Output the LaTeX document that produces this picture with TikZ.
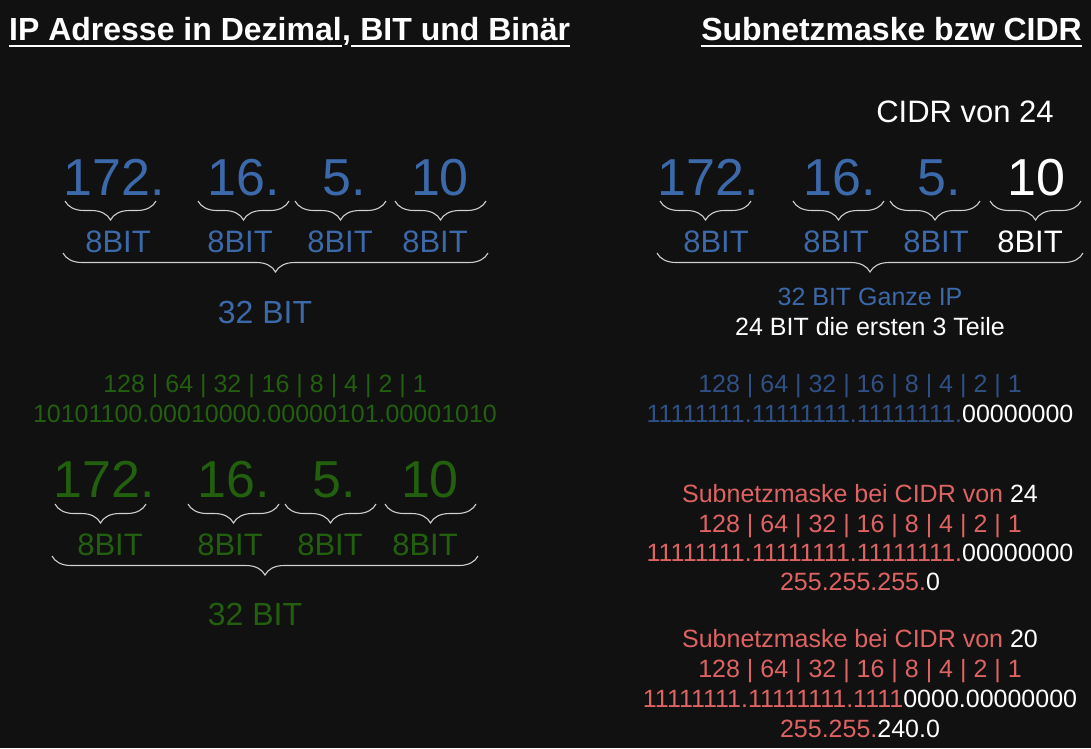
\documentclass[tikz,border=0pt]{standalone}
\usepackage{fontspec}
\setmainfont{Liberation Sans}
\usetikzlibrary{decorations.pathreplacing}
\definecolor{bgdark}{HTML}{111111}
\definecolor{ipblue}{HTML}{3C69A9}
\definecolor{maskblue}{HTML}{2F5085}
\definecolor{bingreen}{HTML}{225F0E}
\definecolor{maskred}{HTML}{DF6363}
\definecolor{bracegray}{HTML}{CFCFCF}
\tikzset{
  bignum/.style={font=\fontsize{52}{52}\selectfont, inner sep=0pt, anchor=base},
  bits/.style={font=\fontsize{31}{31}\selectfont, inner sep=0pt, anchor=base},
  total/.style={font=\fontsize{32}{32}\selectfont, inner sep=0pt, anchor=base},
  line/.style={font=\fontsize{25}{25}\selectfont, inner sep=0pt, anchor=base},
  heading/.style={font=\fontsize{32}{32}\selectfont\bfseries, text=white, inner sep=0pt, anchor=base west},
  curly/.style={decorate, decoration={brace, mirror, amplitude=19pt}, bracegray, line width=1.1pt},
  uline/.style={white, line width=2.6pt},
}

\begin{document}
\begin{tikzpicture}[x=1pt, y=-1pt]
    \fill[bgdark] (0,0) rectangle (1091,748);
    \useasboundingbox (0,0) rectangle (1091,748);

    % headings
    \node[heading] (ttlA) at (9,40) {IP Adresse in Dezimal};
    \node[heading] (ttlB) at (ttlA.base east) {,};
    \node[heading] (ttlC) at (ttlB.base east) {\ BIT und Binär};
    \node[heading, anchor=base east] (ttlD) at (1082,40) {Subnetzmaske bzw CIDR};
    \draw[uline] ([yshift=-6pt]ttlA.base west) -- ([yshift=-6pt]ttlA.base east);
    \draw[uline] ([yshift=-6pt]ttlC.base west) -- ([yshift=-6pt]ttlC.base east);
    \draw[uline] ([yshift=-6pt]ttlD.base west) -- ([yshift=-6pt]ttlD.base east);

    % left: decimal
    \node[bignum, text=ipblue] (decA) at (114,195) {172.};
    \node[bignum, text=ipblue] (decB) at (244,195) {16.};
    \node[bignum, text=ipblue] (decC) at (344,195) {5.};
    \node[bignum, text=ipblue] (decD) at (440,195) {10};
    \draw[curly] (65,201) -- (156,201);
    \draw[curly] (198,201) -- (289,201);
    \draw[curly] (295,201) -- (386,201);
    \draw[curly] (395,201) -- (486,201);
    \node[bits, text=ipblue] (bitA) at (118,252) {8BIT};
    \node[bits, text=ipblue] (bitB) at (240,252) {8BIT};
    \node[bits, text=ipblue] (bitC) at (340,252) {8BIT};
    \node[bits, text=ipblue] (bitD) at (435,252) {8BIT};
    \draw[curly] (63,253) -- (488,253);
    \node[total, text=ipblue] (sumA) at (265,323) {32 BIT};

    % left: binary
    \node[line, text=bingreen] (valA) at (265,392) {128 | 64 | 32 | 16 | 8 | 4 | 2 | 1};
    \node[line, text=bingreen] (binA) at (265,422) {10101100.00010000.00000101.00001010};
    \node[bignum, text=bingreen] (grnA) at (104,497) {172.};
    \node[bignum, text=bingreen] (grnB) at (234,497) {16.};
    \node[bignum, text=bingreen] (grnC) at (334,497) {5.};
    \node[bignum, text=bingreen] (grnD) at (430,497) {10};
    \draw[curly] (55,504) -- (146,504);
    \draw[curly] (188,504) -- (279,504);
    \draw[curly] (285,504) -- (376,504);
    \draw[curly] (385,504) -- (476,504);
    \node[bits, text=bingreen] (gbitA) at (110,555) {8BIT};
    \node[bits, text=bingreen] (gbitB) at (230,555) {8BIT};
    \node[bits, text=bingreen] (gbitC) at (330,555) {8BIT};
    \node[bits, text=bingreen] (gbitD) at (425,555) {8BIT};
    \draw[curly] (52,556) -- (478,556);
    \node[total, text=bingreen] (sumB) at (255,625) {32 BIT};

    % right: cidr
    \node[total, font=\fontsize{31}{31}\selectfont, text=white] (cidr) at (965,122) {CIDR von 24};
    \node[bignum, text=ipblue] (cdrA) at (708,195) {172.};
    \node[bignum, text=ipblue] (cdrB) at (840,195) {16.};
    \node[bignum, text=ipblue] (cdrC) at (939,195) {5.};
    \node[bignum, text=white] (cdrD) at (1036,195) {10};
    \draw[curly] (660,201) -- (751,201);
    \draw[curly] (793,201) -- (884,201);
    \draw[curly] (890,201) -- (980,201);
    \draw[curly] (990,201) -- (1081,201);
    \node[bits, text=ipblue] (cbitA) at (716,252) {8BIT};
    \node[bits, text=ipblue] (cbitB) at (836,252) {8BIT};
    \node[bits, text=ipblue] (cbitC) at (936,252) {8BIT};
    \node[bits, text=white] (cbitD) at (1030,252) {8BIT};
    \draw[curly] (657,253) -- (1083,253);
    \node[line, text=ipblue] (sumC) at (870,305) {32 BIT Ganze IP};
    \node[line, text=white] (sumD) at (870,335) {24 BIT die ersten 3 Teile};
    \node[line, text=maskblue] (valB) at (860,392) {128 | 64 | 32 | 16 | 8 | 4 | 2 | 1};
    \node[line, text=maskblue] (binB) at (860,422) {11111111.11111111.11111111.\textcolor{white}{00000000}};

    % right: masks
    \node[line, text=maskred] (mskA) at (860,502) {Subnetzmaske bei CIDR von \textcolor{white}{24}};
    \node[line, text=maskred] (valC) at (860,532) {128 | 64 | 32 | 16 | 8 | 4 | 2 | 1};
    \node[line, text=maskred] (binC) at (860,561) {11111111.11111111.11111111.\textcolor{white}{00000000}};
    \node[line, text=maskred] (decE) at (860,590) {255.255.255.\textcolor{white}{0}};
    \node[line, text=maskred] (mskB) at (860,647) {Subnetzmaske bei CIDR von \textcolor{white}{20}};
    \node[line, text=maskred] (valD) at (860,677) {128 | 64 | 32 | 16 | 8 | 4 | 2 | 1};
    \node[line, text=maskred] (binD) at (860,707) {11111111.11111111.1111\textcolor{white}{0000.00000000}};
    \node[line, text=maskred] (decF) at (860,737) {255.255.\textcolor{white}{240.0}};
\end{tikzpicture}
\end{document}
